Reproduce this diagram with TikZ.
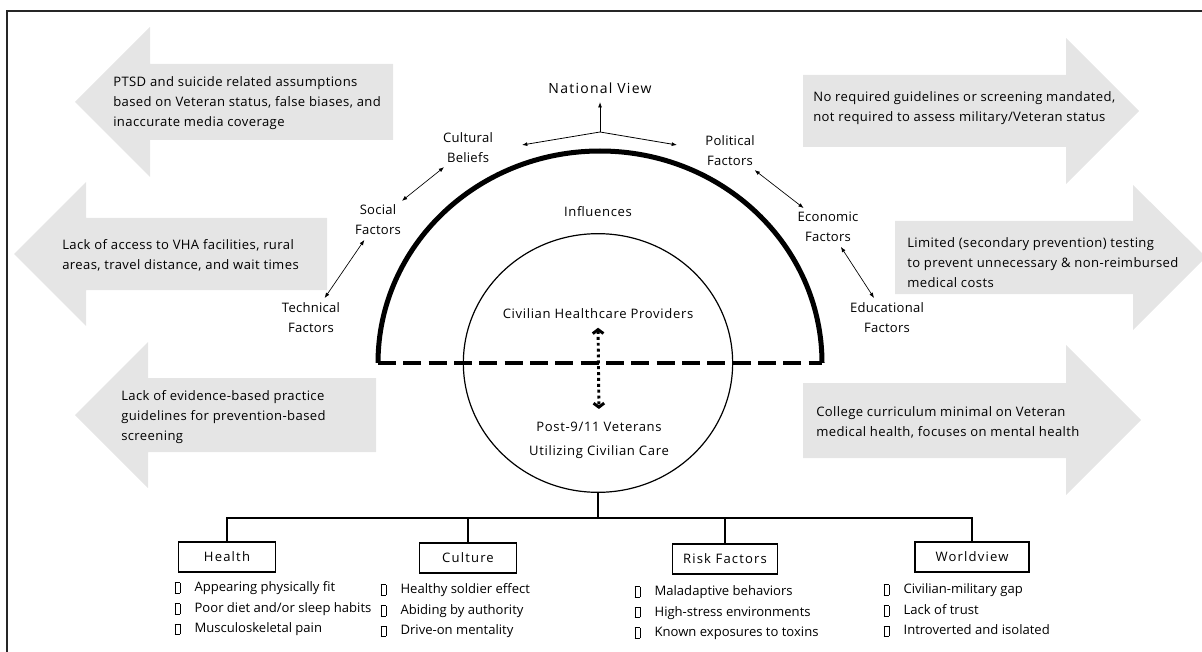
\documentclass[tikz,border=0pt]{standalone}
\usepackage{fontspec}
\setmainfont{Open Sans}[LetterSpace=2]
\newfontfamily\blockfont{Open Sans}[LetterSpace=3]
\newfontfamily\corefont{Open Sans}[LetterSpace=5]
\newfontfamily\itemfont{Open Sans}
\newfontfamily\headfont{Open Sans}[LetterSpace=9]
\usetikzlibrary{arrows.meta,shapes.geometric}
\newcommand{\tofu}{\raisebox{-0.8pt}{\framebox(3.5,7.5){}}\hspace{11pt}}
\begin{document}
\begin{tikzpicture}[x=0.75pt,y=-0.75pt,
  font=\fontsize{9.8}{15}\selectfont,
  barrier/.style={fill=gray!20},
  blocktext/.style={align=left, anchor=west, inner sep=0pt, font=\blockfont\fontsize{9.8}{15}\selectfont},
  coretext/.style={align=center, font=\corefont\fontsize{9.8}{18}\selectfont},
  factor/.style={align=center, inner sep=1pt},
  link/.style={line width=0.5pt, {Latex[length=4pt,width=3pt]}-{Latex[length=4pt,width=3pt]}, shorten <=3pt, shorten >=3pt},
  tree/.style={line width=0.9pt},
  catbox/.style={draw, line width=0.8pt, minimum height=22.5pt, inner sep=2pt, font=\headfont\fontsize{9.8}{15}\selectfont},
  itemlist/.style={align=left, anchor=west, inner sep=0pt, font=\itemfont\fontsize{9.8}{15.4}\selectfont}]
\useasboundingbox (0,0) rectangle (1202,652);
\clip (0,0) rectangle (1202,652);
\draw[line width=1pt, black!85] (7,11) rectangle (1215,665);
\fill[barrier] (75,102) -- (150,27) -- (150,64) -- (393,64) -- (393,140) -- (150,140) -- (150,177) -- cycle;
\fill[barrier] (14,254) -- (86,182) -- (86,218) -- (327,218) -- (327,290) -- (86,290) -- (86,326) -- cycle;
\fill[barrier] (75,415) -- (148,342) -- (148,378) -- (376,378) -- (376,452) -- (148,452) -- (148,488) -- cycle;
\fill[barrier] (1139,111) -- (1066,38) -- (1066,75) -- (803,75) -- (803,147) -- (1066,147) -- (1066,184) -- cycle;
\fill[barrier] (1206,257) -- (1133,185) -- (1133,221) -- (895,221) -- (895,294) -- (1133,294) -- (1133,330) -- cycle;
\fill[barrier] (1141,420) -- (1066,345) -- (1066,383) -- (803,383) -- (803,458) -- (1066,458) -- (1066,495) -- cycle;
\node[blocktext] (ptsd) at (113,103) {PTSD and suicide related assumptions\\based on Veteran status, false biases, and\\inaccurate media coverage};
\node[blocktext] (vha) at (62,255) {Lack of access to VHA facilities, rural\\areas, travel distance, and wait times};
\node[blocktext] (ebp) at (121,417) {Lack of evidence-based practice\\guidelines for prevention-based\\screening};
\node[blocktext] (mandate) at (813,108) {No required guidelines or screening mandated,\\not required to assess military/Veteran status};
\node[blocktext] (cost) at (907,263) {Limited (secondary prevention) testing\\to prevent unnecessary \& non-reimbursed\\medical costs};
\node[blocktext] (curric) at (816,422) {College curriculum minimal on Veteran\\medical health, focuses on mental health};
\draw[line width=3.75pt] (378,363) arc[start angle=180, end angle=360, x radius=222, y radius=212];
\draw[line width=3pt, dash pattern=on 13.5pt off 5.5pt] (378,363) -- (822,363);
\node[draw, ellipse, line width=0.9pt, minimum width=202pt, minimum height=194pt] (core) at (598,363) {};
\node[font=\headfont\fontsize{10.5}{15}\selectfont] (natview) at (600,88) {National View};
\coordinate (hub) at (600,132);
\coordinate (hubL) at (522,145);
\coordinate (hubR) at (677,145);
\draw[line width=0.6pt, -{Latex[length=4pt,width=3pt]}, shorten >=3pt] (hub) -- (natview.south);
\draw[line width=0.6pt, -{Latex[length=4pt,width=3pt]}] (hub) -- (hubL);
\draw[line width=0.6pt, -{Latex[length=4pt,width=3pt]}] (hub) -- (hubR);
\node[factor] (cult) at (468,148) {Cultural\\Beliefs};
\node[factor] (pol) at (730,151) {Political\\Factors};
\node[factor] (soc) at (378,220) {Social\\Factors};
\node[factor] (econ) at (828,227) {Economic\\Factors};
\node[factor] (tech) at (311,318) {Technical\\Factors};
\node[factor] (educ) at (887,318) {Educational\\Factors};
\draw[link] (cult) -- (soc);
\draw[link] (soc) -- (tech);
\draw[link] (pol) -- (econ);
\draw[link] (econ) -- (educ);
\node[coretext] (infl) at (598,212) {Influences};
\node[coretext] (prov) at (598,314) {Civilian Healthcare Providers};
\node[coretext] (vets) at (599,440) {Post-9/11 Veterans\\Utilizing Civilian Care};
\draw[line width=2.2pt, dash pattern=on 2.2pt off 2.2pt, {Straight Barb[length=3pt,width=8pt]}-{Straight Barb[length=3pt,width=8pt]}, shorten <=3pt, shorten >=6pt] (prov.south) -- (vets.north);
\node[catbox, minimum width=72.75pt] (health) at (227,557) {Health};
\node[catbox, minimum width=72.75pt] (culture) at (468,558) {Culture};
\node[catbox, minimum width=78.75pt] (risk) at (725,559) {Risk Factors};
\node[catbox, minimum width=85.5pt] (world) at (972,557) {Worldview};
\coordinate (bus) at (598,518);
\draw[tree] (core.south) -- (bus);
\draw[tree] (health.north) |- (bus) -| (world.north);
\draw[tree] (culture.north) -- (culture.north |- bus);
\draw[tree] (risk.north) -- (risk.north |- bus);
\node[itemlist] (healthitems) at (175,609) {\tofu Appearing physically fit\\\tofu Poor diet and/or sleep habits\\\tofu Musculoskeletal pain};
\node[itemlist] (cultureitems) at (381,611) {\tofu Healthy soldier effect\\\tofu Abiding by authority\\\tofu Drive-on mentality};
\node[itemlist] (riskitems) at (635,613) {\tofu Maladaptive behaviors\\\tofu High-stress environments\\\tofu Known exposures to toxins};
\node[itemlist] (worlditems) at (884,610) {\tofu Civilian-military gap\\\tofu Lack of trust\\\tofu Introverted and isolated};
\end{tikzpicture}
\end{document}
